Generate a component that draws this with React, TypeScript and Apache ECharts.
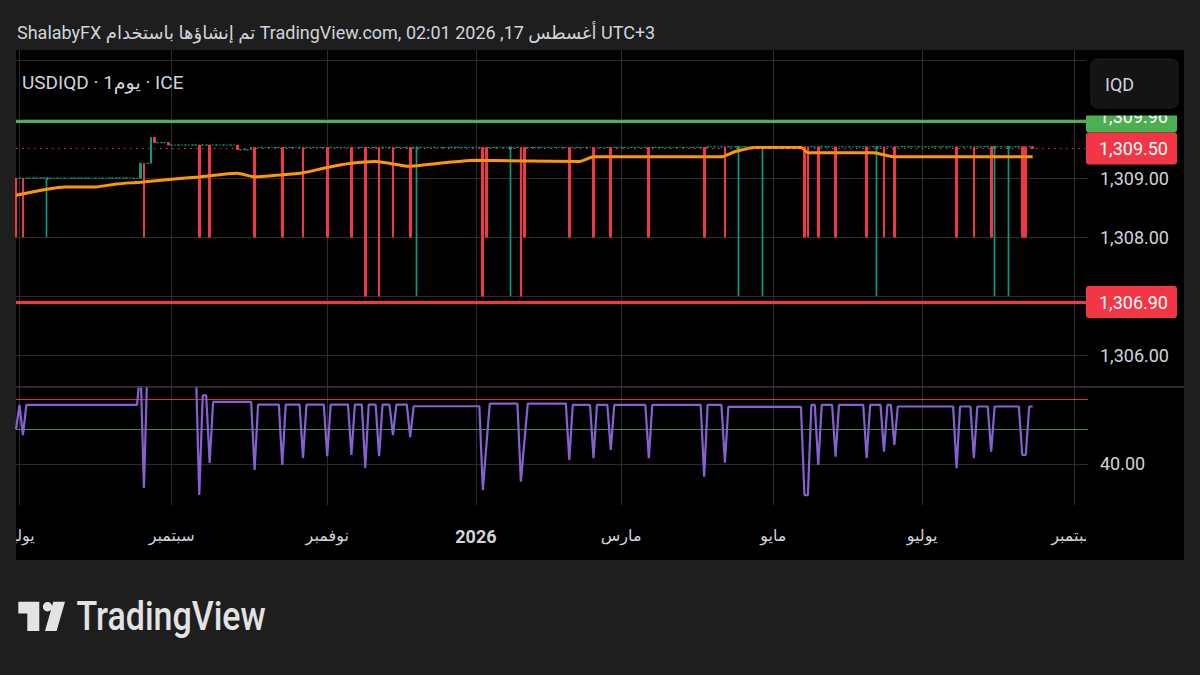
import React, { useEffect, useRef } from "react";
import * as echarts from "echarts";

// ---------- calendar ----------
const FIRST_DAY = "2025-06-30";
const LAST_AXIS_DAY = "2026-09-07";
const LAST_BAR_DAY = "2026-08-14";

// ---------- price data ----------
// flat closing level of the daily bars, from the given date on
const priceLevels: [string, number][] = [
  ["2025-06-30", 1309.0],
  ["2025-08-19", 1309.25],
  ["2025-08-22", 1309.69],
  ["2025-08-25", 1309.6],
  ["2025-08-29", 1309.56],
  ["2025-09-26", 1309.48],
  ["2025-10-02", 1309.52],
  ["2026-04-06", 1309.53],
  ["2026-08-14", 1309.5],
];

// long bars: [date, low, kind]  down = red body closing low, up = teal bar with long lower wick
const spikes: [string, number, "down" | "up"][] = [
  ["2025-06-30", 1308, "down"],
  ["2025-07-02", 1308, "down"],
  ["2025-07-11", 1308, "up"],
  ["2025-08-20", 1308, "down"],
  ["2025-09-11", 1308, "down"],
  ["2025-09-16", 1308, "down"],
  ["2025-10-03", 1308, "down"],
  ["2025-10-15", 1308, "down"],
  ["2025-10-23", 1308, "down"],
  ["2025-11-03", 1308, "down"],
  ["2025-11-12", 1308, "down"],
  ["2025-11-18", 1307, "down"],
  ["2025-11-24", 1307, "down"],
  ["2025-11-28", 1308, "down"],
  ["2025-12-05", 1308, "down"],
  ["2025-12-09", 1307, "up"],
  ["2026-01-05", 1307, "down"],
  ["2026-01-06", 1308, "down"],
  ["2026-01-15", 1307, "up"],
  ["2026-01-20", 1307, "down"],
  ["2026-01-21", 1308, "down"],
  ["2026-02-09", 1308, "down"],
  ["2026-02-18", 1308, "down"],
  ["2026-02-25", 1308, "down"],
  ["2026-03-12", 1308, "down"],
  ["2026-04-03", 1308, "down"],
  ["2026-04-13", 1308, "down"],
  ["2026-04-17", 1307, "up"],
  ["2026-04-28", 1307, "up"],
  ["2026-05-14", 1308, "down"],
  ["2026-05-15", 1308, "down"],
  ["2026-05-20", 1308, "down"],
  ["2026-05-27", 1308, "down"],
  ["2026-06-09", 1308, "down"],
  ["2026-06-12", 1307, "up"],
  ["2026-06-16", 1308, "down"],
  ["2026-06-19", 1308, "down"],
  ["2026-07-15", 1308, "down"],
  ["2026-07-22", 1308, "down"],
  ["2026-07-29", 1308, "down"],
  ["2026-07-30", 1307, "up"],
  ["2026-08-05", 1307, "up"],
  ["2026-08-11", 1308, "down"],
  ["2026-08-12", 1308, "down"],
];

// orange moving average, read at these dates
const maPoints: [string, number][] = [
  ["2025-06-30", 1308.71],
  ["2025-07-11", 1308.81],
  ["2025-07-18", 1308.85],
  ["2025-07-31", 1308.85],
  ["2025-08-08", 1308.9],
  ["2025-08-19", 1308.93],
  ["2025-09-01", 1308.98],
  ["2025-09-11", 1309.02],
  ["2025-09-26", 1309.08],
  ["2025-10-03", 1309.02],
  ["2025-10-14", 1309.05],
  ["2025-10-23", 1309.09],
  ["2025-11-03", 1309.18],
  ["2025-11-12", 1309.25],
  ["2025-11-21", 1309.28],
  ["2025-12-02", 1309.22],
  ["2025-12-04", 1309.2],
  ["2025-12-09", 1309.21],
  ["2026-01-01", 1309.3],
  ["2026-02-12", 1309.28],
  ["2026-02-18", 1309.36],
  ["2026-04-10", 1309.36],
  ["2026-04-16", 1309.45],
  ["2026-04-24", 1309.52],
  ["2026-05-13", 1309.52],
  ["2026-05-15", 1309.43],
  ["2026-06-11", 1309.43],
  ["2026-06-19", 1309.36],
  ["2026-08-14", 1309.36],
];

const resistanceLevel = 1309.96;
const supportLevel = 1306.9;

// ---------- lower pane (oscillator) ----------
const oscLevels: [string, number][] = [
  ["2025-06-30", 67.2],
  ["2025-08-19", 85],
  ["2025-09-12", 71.6],
  ["2025-09-17", 68.6],
  ["2025-10-06", 67.4],
  ["2025-12-08", 66.6],
  ["2026-01-07", 67.8],
  ["2026-02-09", 67.2],
  ["2026-04-14", 66.3],
  ["2026-05-18", 67.2],
  ["2026-06-22", 66.5],
];
const oscDips: [string, number][] = [
  ["2025-06-30", 56],
  ["2025-07-02", 53.3],
  ["2025-08-20", 28.9],
  ["2025-09-11", 25.6],
  ["2025-09-16", 40.4],
  ["2025-10-03", 37.2],
  ["2025-10-15", 39.5],
  ["2025-10-23", 42.7],
  ["2025-11-03", 43.6],
  ["2025-11-12", 44.1],
  ["2025-11-18", 38.1],
  ["2025-11-24", 43.6],
  ["2025-11-28", 53.3],
  ["2025-12-05", 52.4],
  ["2026-01-05", 27.9],
  ["2026-01-06", 48],
  ["2026-01-20", 31.8],
  ["2026-01-21", 50],
  ["2026-02-09", 41.8],
  ["2026-02-18", 42.6],
  ["2026-02-25", 46.4],
  ["2026-03-12", 42.6],
  ["2026-04-03", 34.1],
  ["2026-04-13", 40.5],
  ["2026-05-14", 25.6],
  ["2026-05-15", 25.6],
  ["2026-05-20", 39.5],
  ["2026-05-27", 43.3],
  ["2026-06-09", 42.6],
  ["2026-06-16", 45.6],
  ["2026-06-19", 48.7],
  ["2026-07-15", 38],
  ["2026-07-22", 42.6],
  ["2026-07-29", 45.6],
  ["2026-08-11", 44.1],
  ["2026-08-12", 44.1],
];
const oscUpper = 70;
const oscLower = 56;

// ---------- axes ----------
const priceMin = 1305.46;
const priceMax = 1311.17;
const priceGridValues = [1306, 1307, 1308, 1309, 1310, 1311];
const priceTickLabels = [1306, 1308, 1309];
const oscMin = 21;
const oscMax = 75.5;
const oscGridValues = [40];

const monthTicks: [string, string][] = [
  ["2025-07-01", "يوليو"],
  ["2025-09-01", "سبتمبر"],
  ["2025-11-03", "نوفمبر"],
  ["2026-01-01", "2026"],
  ["2026-03-02", "مارس"],
  ["2026-05-01", "مايو"],
  ["2026-07-01", "يوليو"],
  ["2026-09-01", "سبتمبر"],
];

const HEADER = "ShalabyFX تم إنشاؤها باستخدام TradingView.com, 02:01 2026 ,17 أغسطس UTC+3";
const LEGEND = "USDIQD · 1يوم · ICE";

// ---------- styles ----------
const PAGE_BG = "#1e1e1e";
const GRID = "#2c2c2c";
const TEXT = "#d1d4dc";
const UP = "#089981";
const DOWN = "#f23645";
const GREEN = "#4caf50";
const FONT = "Roboto, 'DejaVu Sans', sans-serif";

const TV_PATH =
  "M0 0H21V29.3H9V11.7H0Z M33.9 5A4.7 4.7 0 1 1 24.5 5A4.7 4.7 0 1 1 33.9 5Z M35 0H46.7L38.3 29.3H26.7Z";
echarts.graphic.registerShape("tvLogo", echarts.graphic.extendPath(TV_PATH, {}));

// ---------- build ----------
function weekdays(from: string, to: string): string[] {
  const out: string[] = [];
  const d = new Date(from + "T00:00:00Z");
  const end = new Date(to + "T00:00:00Z");
  while (d <= end) {
    const wd = d.getUTCDay();
    if (wd !== 0 && wd !== 6) out.push(d.toISOString().slice(0, 10));
    d.setUTCDate(d.getUTCDate() + 1);
  }
  return out;
}
const dates = weekdays(FIRST_DAY, LAST_AXIS_DAY);
const idxOf = (d: string) => dates.indexOf(d);
const lastIdx = idxOf(LAST_BAR_DAY);

function levelAt(levels: [string, number][], i: number) {
  let v = levels[0][1];
  for (const [d, l] of levels) if (idxOf(d) <= i) v = l;
  return v;
}

const spikeMap = new Map(spikes.map((s) => [idxOf(s[0]), s] as const));
const candleData: any[] = [];
let prevLevel = priceLevels[0][1];
for (let i = 0; i <= lastIdx; i++) {
  const base = levelAt(priceLevels, i);
  const sp = spikeMap.get(i);
  if (sp && sp[2] === "down") {
    candleData.push([base, sp[1], sp[1], base]);
  } else if (sp) {
    candleData.push({ value: [base - 0.02, base, sp[1], base], itemStyle: { borderWidth: 1.7 } });
  } else {
    candleData.push([prevLevel, base, Math.min(prevLevel, base), Math.max(prevLevel, base)]);
  }
  prevLevel = base;
}
const lastClose = levelAt(priceLevels, lastIdx);

const maData: (number | null)[] = new Array(lastIdx + 1).fill(null);
for (const [d, v] of maPoints) maData[idxOf(d)] = v;

const dipMap = new Map(oscDips.map(([d, v]) => [idxOf(d), v] as const));
const oscData: number[] = [];
for (let i = 0; i <= lastIdx; i++) {
  oscData.push(dipMap.has(i) ? (dipMap.get(i) as number) : levelAt(oscLevels, i));
}

const tickMap = new Map(monthTicks.map(([d, t]) => [d, t] as const));
const tickIdx = new Set(monthTicks.map(([d]) => idxOf(d)));
const isTick = (index: number) => tickIdx.has(index);

const fmt = (v: number) =>
  v.toLocaleString("en-US", { minimumFractionDigits: 2, maximumFractionDigits: 2 });

const option: any = {
  animation: false,
  backgroundColor: "transparent",
  textStyle: { fontFamily: FONT },
  grid: [
    { left: 16, right: 112, top: 50, height: 337 },
    { left: 16, right: 112, top: 387, height: 118 },
  ],
  xAxis: [
    {
      type: "category",
      gridIndex: 0,
      data: dates,
      boundaryGap: false,
      axisLine: { show: false },
      axisTick: { show: false },
      axisLabel: { show: false },
      splitLine: { show: true, interval: isTick, lineStyle: { color: GRID, width: 1 } },
    },
    {
      type: "category",
      gridIndex: 1,
      data: dates,
      boundaryGap: false,
      axisLine: { show: false },
      axisTick: { show: false },
      splitLine: { show: true, interval: isTick, lineStyle: { color: GRID, width: 1 } },
      axisLabel: {
        show: true,
        interval: isTick,
        margin: 22,
        color: TEXT,
        fontSize: 16,
        fontFamily: FONT,
        formatter: (value: string) => {
          const t = tickMap.get(value) || "";
          return /^\d{4}$/.test(t) ? "{y|" + t + "}" : t;
        },
        rich: { y: { fontWeight: "bold", fontSize: 18, color: TEXT, fontFamily: FONT } },
      },
    },
  ],
  yAxis: [
    {
      type: "value",
      gridIndex: 0,
      position: "right",
      min: priceMin,
      max: priceMax,
      axisLine: { show: false },
      axisTick: { show: false, customValues: priceTickLabels },
      splitLine: { show: false },
      axisLabel: {
        customValues: priceTickLabels,
        formatter: (v: number) => fmt(v),
        color: TEXT,
        fontSize: 18,
        margin: 12,
        fontFamily: FONT,
      },
    },
    {
      type: "value",
      gridIndex: 1,
      position: "right",
      min: oscMin,
      max: oscMax,
      axisLine: { show: false },
      axisTick: { show: false, customValues: oscGridValues },
      splitLine: { show: false },
      axisLabel: {
        customValues: oscGridValues,
        formatter: (v: number) => fmt(v),
        color: TEXT,
        fontSize: 18,
        margin: 12,
        fontFamily: FONT,
      },
    },
  ],
  series: [
    {
      type: "candlestick",
      name: "USDIQD",
      xAxisIndex: 0,
      yAxisIndex: 0,
      data: candleData,
      barWidth: 2.2,
      z: 3,
      itemStyle: { color: UP, color0: DOWN, borderColor: UP, borderColor0: DOWN, borderWidth: 1 },
      markLine: {
        silent: true,
        symbol: ["none", "none"],
        z: 6,
        label: { show: false },
        data: [
          { yAxis: resistanceLevel, lineStyle: { color: GREEN, width: 3, type: "solid" } },
          { yAxis: supportLevel, lineStyle: { color: DOWN, width: 3, type: "solid" } },
          { yAxis: lastClose, lineStyle: { color: DOWN, width: 1, type: [1.5, 4.5] } },
        ],
      },
    },
    {
      type: "line",
      name: "MA",
      xAxisIndex: 0,
      yAxisIndex: 0,
      data: maData,
      connectNulls: true,
      showSymbol: false,
      symbol: "none",
      smooth: 0.2,
      z: 4,
      lineStyle: { color: "#ff9800", width: 3 },
      markLine: {
        silent: true,
        symbol: ["none", "none"],
        z: 1,
        label: { show: false },
        lineStyle: { color: GRID, width: 1, type: "solid" },
        data: priceGridValues.map((v) => ({ yAxis: v })),
      },
    },
    {
      type: "line",
      name: "OSC",
      xAxisIndex: 1,
      yAxisIndex: 1,
      data: oscData,
      showSymbol: false,
      symbol: "none",
      z: 3,
      lineStyle: { color: "#8760d2", width: 2.2 },
      markLine: {
        silent: true,
        symbol: ["none", "none"],
        z: 1,
        label: { show: false },
        data: [
          ...oscGridValues.map((v) => ({ yAxis: v, lineStyle: { color: GRID, width: 1, type: "solid" } })),
          { yAxis: oscUpper, lineStyle: { color: "rgba(242,54,69,0.9)", width: 1, type: "solid" } },
          { yAxis: oscLower, lineStyle: { color: "rgba(76,175,80,0.8)", width: 1, type: "solid" } },
        ],
      },
    },
  ],
};

// price tag on the right scale, placed through the chart's own y scale
function priceTag(y: number, value: number, bg: string, z: number) {
  return [
    { type: "rect", z, silent: true, shape: { x: 1086, y: y - 16, width: 91, height: 32, r: 3 }, style: { fill: bg } },
    {
      type: "text",
      z: z + 1,
      silent: true,
      x: 1099,
      y,
      style: { text: fmt(value), fill: "#ffffff", fontSize: 18, fontFamily: FONT, verticalAlign: "middle" },
    },
  ];
}

export default function App() {
  const ref = useRef<HTMLDivElement>(null);
  useEffect(() => {
    const el = ref.current;
    if (!el) return;
    const chart = echarts.init(el, null, { renderer: "svg", width: 1200, height: 675 });
    chart.setOption(option);
    const yOf = (v: number) => chart.convertToPixel({ yAxisIndex: 0 }, v) as number;
    const graphics: any[] = [
      { type: "line", z: 50, silent: true, shape: { x1: 16, y1: 387, x2: 1184, y2: 387 }, style: { stroke: "#363636", lineWidth: 1.5 } },
      { type: "rect", z: 100, silent: true, shape: { x: 0, y: 506, width: 16, height: 60 }, style: { fill: PAGE_BG } },
      { type: "rect", z: 100, silent: true, shape: { x: 1086, y: 506, width: 98, height: 54 }, style: { fill: "#000" } },
      // resistance tag sits just above the last-price tag
      ...priceTag(yOf(lastClose) - 32, resistanceLevel, GREEN, 101),
      { type: "rect", z: 103, silent: true, shape: { x: 1086, y: 50, width: 98, height: 65.5 }, style: { fill: "#000" } },
      { type: "rect", z: 104, silent: true, shape: { x: 1091, y: 59, width: 87, height: 49, r: 6 }, style: { fill: "#141414", stroke: "#1e1e1e", lineWidth: 1 } },
      { type: "text", z: 105, silent: true, x: 1105, y: 84, style: { text: "IQD", fill: TEXT, fontSize: 18, fontFamily: FONT, verticalAlign: "middle" } },
      ...priceTag(yOf(lastClose), lastClose, DOWN, 106),
      ...priceTag(yOf(supportLevel), supportLevel, DOWN, 106),
      { type: "text", z: 110, silent: true, x: 17, y: 32, style: { text: HEADER, fill: TEXT, fontSize: 18, fontFamily: FONT, verticalAlign: "middle" } },
      { type: "text", z: 110, silent: true, x: 22, y: 82, style: { text: LEGEND, fill: TEXT, fontSize: 19, fontFamily: FONT, verticalAlign: "middle" } },
      { type: "tvLogo", z: 110, silent: true, x: 18.3, y: 601.7, style: { fill: "#e3e3e3" } },
      { type: "text", z: 110, silent: true, x: 76.5, y: 617, scaleX: 0.85, style: { text: "TradingView", fill: "#e3e3e3", fontSize: 40, fontWeight: 500, fontFamily: "Roboto, sans-serif", verticalAlign: "middle" } },
    ];
    chart.setOption({ graphic: graphics });
    return () => chart.dispose();
  }, []);
  return (
    <div style={{ position: "fixed", left: 0, top: 0, width: 1200, height: 675, background: PAGE_BG, overflow: "hidden" }}>
      <div style={{ position: "absolute", left: 16, top: 50, width: 1168, height: 510, background: "#000" }} />
      <div ref={ref} style={{ position: "absolute", left: 0, top: 0, width: 1200, height: 675 }} />
    </div>
  );
}
